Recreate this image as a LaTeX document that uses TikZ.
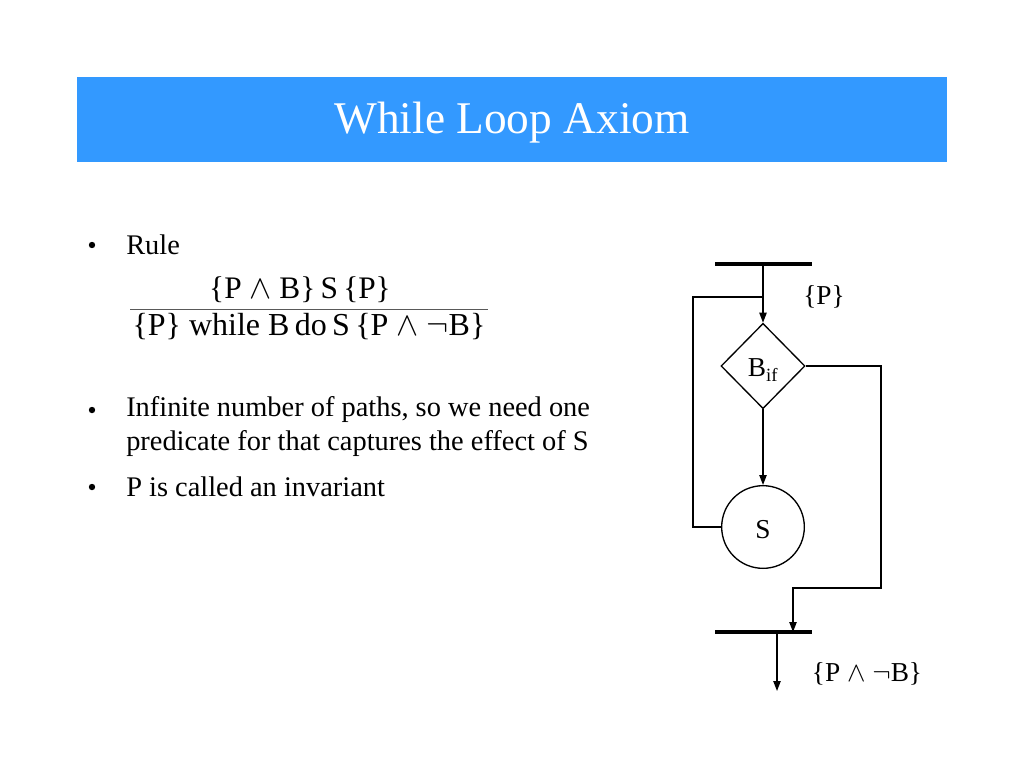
\documentclass[tikz,border=0pt]{standalone}
\usepackage{fontspec}
\setmainfont{Liberation Serif}
\usetikzlibrary{shapes.geometric,arrows.meta}
\definecolor{hdr}{HTML}{3399FF}
\tikzset{
  conn/.style={line width=1pt,-{Triangle[length=7.5pt,width=5.5pt]}},
  plain/.style={line width=1pt},
  bar/.style={line width=3pt},
  body/.style={font=\fontsize{21.3}{25}\selectfont, anchor=west, inner sep=0pt},
  bul/.style={circle, fill=black, inner sep=0pt, minimum size=4.8pt},
  lbl/.style={font=\fontsize{20.5}{24}\selectfont, inner sep=0pt}
}
\begin{document}
\begin{tikzpicture}[x=0.75pt,y=-0.75pt]
\useasboundingbox (0,0) rectangle (1024,768);
\fill[white] (0,0) rectangle (1024,768);
% header
\fill[hdr] (77,77) rectangle (947,162);
\node[font=\fontsize{34}{38}\selectfont, text=white, inner sep=0pt] (title) at (512,123) {While Loop Axiom};
% bullets
\node[bul] (b1) at (92,245) {};
\node[body] (t1) at (126,245) {Rule};
\node[font=\fontsize{23.5}{28}\selectfont, inner sep=0pt] (num) at (300,290) {\{P $\wedge$ B\}\,S\,\{P\}};
\node[font=\fontsize{24}{28}\selectfont, inner sep=0pt] (den) at (309,327) {\{P\} while B\,do\,S\,\{P $\wedge$ $\neg$B\}};
\draw[line width=0.8pt, gray!70!black] (130,309.5) -- (488,309.5);
\node[bul] (b2) at (92,410) {};
\node[body] (t2) at (126,410) {Infinite number of paths, so we need one};
\node[body] (t2b) at (126,444) {predicate for that captures the effect of S};
\node[bul] (b3) at (92,487) {};
\node[body] (t3) at (126,487) {P is called an invariant};
% diagram
\coordinate (tbl) at (715,264);
\coordinate (tbr) at (812,264);
\coordinate (tbm) at (763,264);
\draw[bar] (tbl) -- (tbr);
\node[diamond, draw, line width=1pt, inner sep=0pt, minimum width=63pt, minimum height=64pt] (d) at (763,366) {};
\node[lbl] (dl) at (763,370) {B\textsubscript{\fontsize{14}{16}\selectfont if}};
\node[circle, draw, line width=1pt, minimum size=62pt, inner sep=0pt] (s) at (763,527) {};
\node[lbl] (sl) at (763,530) {S};
\coordinate (bbl) at (715,632);
\coordinate (bbr) at (812,632);
\draw[bar] (bbl) -- (bbr);
\coordinate (jn) at (763,297);
\draw[conn] (tbm) -- (d.north);
\draw[plain] (s.west) -- (693,527) -- (693,297) -- (jn);
\draw[conn] (d.south) -- (s.north);
\coordinate (bin) at (793,632);
\draw[conn] (d.east) -- (881,366) -- (881,588) -- (793,588) -- (bin);
\coordinate (bout) at (777,632);
\coordinate (oend) at (777,691);
\draw[conn] (bout) -- (oend);
\node[lbl] (pl) at (824,297) {\{P\}};
\node[lbl] (ql) at (867,674) {\{P $\wedge$ $\neg$B\}};
\end{tikzpicture}
\end{document}
